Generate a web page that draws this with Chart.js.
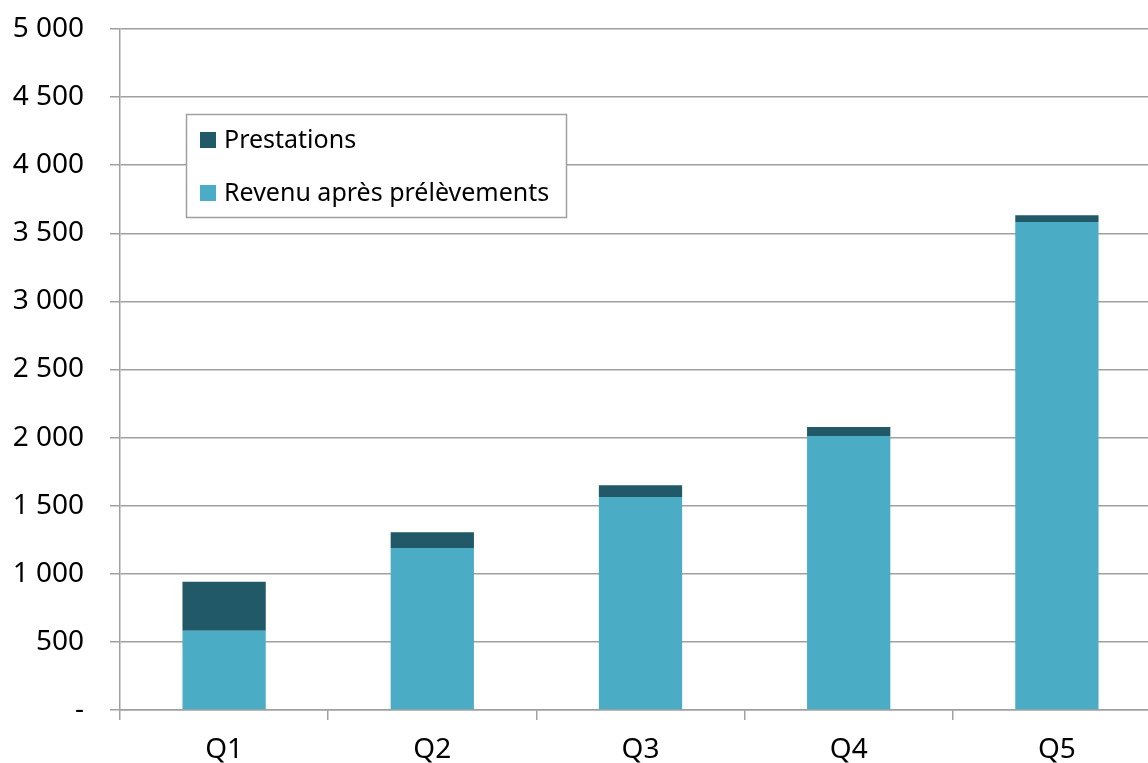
<!DOCTYPE html>
<html>
<head>
<meta charset="utf-8">
<script src="https://cdn.jsdelivr.net/npm/chart.js@4.4.1/dist/chart.umd.min.js"></script>
<style>
  html, body { margin: 0; padding: 0; background: #fff; overflow: hidden; }
  #wrap { width: 1162px; height: 763px; position: relative; }
</style>
</head>
<body>
<div id="wrap"><canvas id="chart"></canvas></div>
<script>
const categories = ['Q1', 'Q2', 'Q3', 'Q4', 'Q5'];
// revenu après prélèvements (bottom of the stack)
const revenu = [582, 1189, 1564, 2012, 3583];
// prestations stacked on top
const prestations = [360, 116, 86, 66, 49];

const darkTeal = '#215968';
const lightTeal = '#4bacc6';
const gridGrey = '#a0a0a0';

// formats 3500 -> "3 500", 0 -> "-"
function fmt(v) {
  if (v === 0) return '-';
  return String(v).replace(/\B(?=(\d{3})+(?!\d))/g, ' ');
}

// legend drawn inside the plot, boxed, like the original
const boxedLegend = {
  id: 'boxedLegend',
  afterDraw(chart) {
    const ctx = chart.ctx;
    const x = 186, y = 114, w = 380, h = 103;
    ctx.save();
    ctx.fillStyle = '#fff';
    ctx.fillRect(x, y, w, h);
    ctx.strokeStyle = gridGrey;
    ctx.lineWidth = 1.5;
    ctx.strokeRect(x + 0.5, y + 0.5, w, h);
    const items = [chart.data.datasets[1], chart.data.datasets[0]];
    ctx.font = '25px "Noto Sans"';
    ctx.textBaseline = 'middle';
    items.forEach((ds, i) => {
      const cy = 140 + i * 53;
      ctx.fillStyle = ds.backgroundColor;
      ctx.fillRect(200, cy - 8, 16, 16);
      ctx.fillStyle = '#000';
      ctx.fillText(ds.label, 224, cy + 1);
    });
    ctx.restore();
  }
};

new Chart(document.getElementById('chart').getContext('2d'), {
  type: 'bar',
  data: {
    labels: categories,
    datasets: [
      {
        label: 'Revenu après prélèvements',
        data: revenu,
        backgroundColor: lightTeal,
        categoryPercentage: 1,
        barPercentage: 0.4,
      },
      {
        label: 'Prestations',
        data: prestations,
        backgroundColor: darkTeal,
        categoryPercentage: 1,
        barPercentage: 0.4,
      },
    ],
  },
  options: {
    responsive: true,
    maintainAspectRatio: false,
    animation: false,
    layout: {
      padding: { top: 29, right: 1, bottom: 0, left: 0 },
    },
    plugins: {
      legend: { display: false },
      tooltip: { enabled: false },
    },
    scales: {
      x: {
        stacked: true,
        offset: true,
        grid: {
          offset: true,
          drawOnChartArea: false,
          drawTicks: true,
          tickLength: 10,
          color: gridGrey,
          lineWidth: 1.5,
        },
        border: { display: true, color: gridGrey, width: 1.5 },
        ticks: {
          color: '#000',
          padding: 13,
          font: { family: 'Noto Sans', size: 28 },
        },
        afterFit(scale) {
          scale.height = 53;
        },
      },
      y: {
        stacked: true,
        min: 0,
        max: 5000,
        grid: {
          color: gridGrey,
          lineWidth: 1.5,
          tickLength: 10,
        },
        border: { display: true, color: gridGrey, width: 1.5 },
        ticks: {
          stepSize: 500,
          color: '#000',
          padding: 26,
          font: { family: 'Noto Sans', size: 28 },
          callback: (v) => fmt(v),
        },
        afterFit(scale) {
          scale.width = 120;
          // ignore label overflow so the plot top sits where the original does
          scale.paddingTop = 0;
          scale.paddingBottom = 0;
        },
      },
    },
  },
  plugins: [boxedLegend],
});
</script>
</body>
</html>
